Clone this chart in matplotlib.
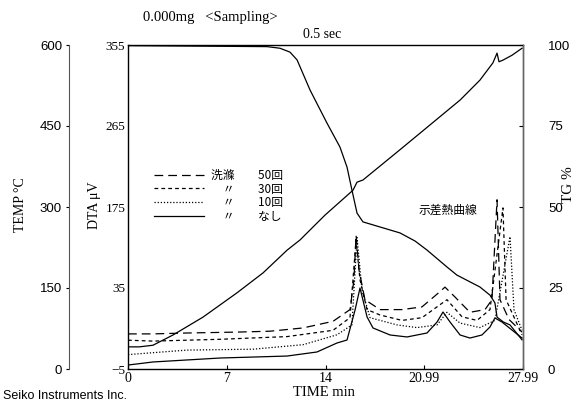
import matplotlib.pyplot as plt
from matplotlib.lines import Line2D

# time axis (min)
x_ticks = [0, 7, 14, 20.99, 27.99]
x_tick_labels = ["0", "7", "14", "20.99", "27.99"]

# DTA axis (uV) - tick labels as printed on the chart
dta_ticks = [-5, 85, 175, 265, 355]
dta_tick_labels = ["−5", "35", "175", "265", "355"]
temp_ticks = [0, 150, 300, 450, 600]
tg_ticks = [0, 25, 50, 75, 100]

# temperature curve (deg C)
temp_t = [0, 0.8, 1.77, 3.19, 5.31, 7.72, 9.57, 11.27, 12.19, 13.96, 15.94, 16.23,
          16.65, 19.27, 21.4, 23.53, 24.94, 25.86, 26.15, 26.29, 26.57, 27.21, 27.92]
temp_v = [41, 41, 44, 63, 96, 141, 178, 220, 239, 285, 331, 346,
          350, 406, 452, 498, 535, 567, 585, 569, 572, 581, 594]

# TG curve (%)
tg_t = [0, 9.85, 10.77, 11.48, 11.98, 12.9, 14.1, 15.02, 15.52, 15.87, 16.23, 16.65,
        19.27, 20.34, 21.19, 22.6, 23.3, 24.94, 25.65, 26.0, 26.15, 26.6, 27.07, 27.92]
tg_v = [99.8, 99.5, 99, 97.8, 95.4, 86.1, 75.9, 68.5, 62.3, 55.2, 48.1, 45.4,
        42.0, 39.5, 36.7, 31.5, 29.0, 25.3, 22.8, 20.4, 16.0, 14.5, 13.6, 9.0]

# DTA curves (uV)
dta50_t = [0, 1.77, 4.18, 7.72, 10.06, 12.4, 14.53, 15.73, 16.01, 16.16, 16.37, 16.79,
           17.86, 19.42, 20.83, 22.11, 22.46, 23.17, 24.23, 25.3, 25.79, 26.15, 26.36, 27.0, 27.92]
dta50_v = [34, 34, 35, 36, 37, 40.6, 48, 61, 94, 144, 105, 72,
           61, 61, 64, 81, 86, 75, 58, 61, 72, 183, 72, 50, 36]

dta30_t = [0, 1.77, 6.52, 11.27, 14.53, 15.73, 16.16, 16.44, 16.94, 17.86, 19.42, 20.83,
           22.6, 23.67, 24.73, 25.65, 26.57, 26.79, 27.92]
dta30_v = [27, 26, 28, 31, 38, 52, 138, 94, 61, 55, 49, 52,
           72, 53, 49, 61, 174, 72, 33]

dta10_t = [0, 4.18, 8.86, 12.4, 14.81, 15.87, 16.23, 16.58, 17.15, 19.06, 20.48, 21.9,
           22.6, 23.53, 24.94, 26.0, 27.07, 27.35, 27.92]
dta10_v = [11, 16, 17, 22, 33, 44, 141, 83, 52, 44, 41, 44,
           58, 46, 41, 49, 142, 61, 38]

dta0_t = [0, 1.77, 6.52, 11.27, 13.39, 14.81, 15.52, 16.09, 16.44, 16.94, 17.36, 18.57,
          19.77, 21.19, 21.9, 22.32, 22.82, 23.53, 24.23, 25.08, 25.65, 26.0, 26.5, 27.92]
dta0_v = [-0.6, 2.8, 7.2, 9.4, 13.9, 23.9, 27.2, 60.6, 85, 52.8, 40.6, 32.8,
          30.6, 35, 47.2, 58.3, 47.2, 32.8, 29.4, 32.8, 41.7, 51.7, 47.2, 29.4]

legend_labels = ["洗滌　　50回", "　〃　　30回", "　〃　　10回", "　〃　　なし"]

serif = "Liberation Serif"
sans = "Liberation Sans"
cjk = ["Noto Sans CJK JP", "DejaVu Sans"]

fig = plt.figure(figsize=(5.87, 4.03), dpi=100)
ax = fig.add_axes([128 / 587, 1 - 369 / 403, 395 / 587, 324 / 403])

lw = 0.9
ax.plot(dta50_t, dta50_v, color="black", lw=lw, dashes=(7, 4))
ax.plot(dta30_t, dta30_v, color="black", lw=lw, dashes=(3, 2.5))
ax.plot(dta10_t, dta10_v, color="black", lw=lw, dashes=(1, 1.5))
ax.plot(dta0_t, dta0_v, color="black", lw=lw)

ax.set_xlim(0, 27.99)
ax.set_ylim(-5, 355)
ax.set_xticks(x_ticks)
ax.set_xticklabels(x_tick_labels, fontfamily=serif, fontsize=10)
ax.set_yticks(dta_ticks)
ax.set_yticklabels(dta_tick_labels, fontfamily=serif, fontsize=9.5)
ax.tick_params(axis="x", direction="in", length=3, pad=2)
ax.tick_params(axis="y", direction="in", length=0, pad=2)
for s in ax.spines.values():
    s.set_linewidth(1.0)

# temperature axis, detached on the left
ax_temp = ax.twinx()
ax_temp.plot(temp_t, temp_v, color="black", lw=lw)
ax_temp.set_ylim(0, 600)
ax_temp.yaxis.tick_left()
ax_temp.spines["left"].set_position(("axes", -59 / 395))
ax_temp.spines["left"].set_color("#555555")
for side in ["right", "top", "bottom"]:
    ax_temp.spines[side].set_visible(False)
ax_temp.set_yticks(temp_ticks)
ax_temp.set_yticklabels([str(v) for v in temp_ticks], fontfamily=sans, fontsize=9.5)
ax_temp.tick_params(axis="y", length=2, pad=3)

# TG axis on the right
ax_tg = ax.twinx()
ax_tg.plot(tg_t, tg_v, color="black", lw=lw)
ax_tg.set_ylim(0, 100)
ax_tg.set_yticks(tg_ticks)
ax_tg.set_yticklabels([str(v) for v in tg_ticks], fontfamily=sans, fontsize=9.5)
ax_tg.tick_params(axis="y", direction="in", length=3, pad=18)
for side in ["left", "top", "bottom"]:
    ax_tg.spines[side].set_visible(False)
ax_tg.spines["right"].set_color("#666666")

# legend
handles = [Line2D([], [], color="black", lw=lw, dashes=(7, 4)),
           Line2D([], [], color="black", lw=lw, dashes=(3, 2.5)),
           Line2D([], [], color="black", lw=lw, dashes=(1, 1.5)),
           Line2D([], [], color="black", lw=lw)]
ax.legend(handles, legend_labels, loc="upper left", bbox_to_anchor=(0.04, 0.65),
          frameon=False, handlelength=4.2, handletextpad=0.6, labelspacing=0.05,
          prop={"family": cjk, "size": 8.5})

ax.text(0.81, 0.49, "示差熱曲線", transform=ax.transAxes, ha="center", va="center",
        fontfamily=cjk, fontsize=8.5)

# axis titles and header text
fig.text(20 / 587, 1 - 205 / 403, "TEMP °C", rotation=90, ha="center", va="center",
         fontfamily=serif, fontsize=10)
fig.text(95 / 587, 1 - 205 / 403, "DTA μV", rotation=90, ha="center", va="center",
         fontfamily=serif, fontsize=10)
fig.text(568 / 587, 1 - 185 / 403, "TG %", rotation=90, ha="center", va="center",
         fontfamily=serif, fontsize=11)
fig.text(324 / 587, 1 - 393 / 403, "TIME min", ha="center", va="center",
         fontfamily=serif, fontsize=10.5)
fig.text(143 / 587, 1 - 18 / 403, "0.000mg   <Sampling>", ha="left", va="center",
         fontfamily=serif, fontsize=10.5)
fig.text(303 / 587, 1 - 34 / 403, "0.5 sec", ha="left", va="center",
         fontfamily=serif, fontsize=10)
fig.text(3 / 587, 1 - 396 / 403, "Seiko Instruments Inc.", ha="left", va="center",
         fontfamily=sans, fontsize=9)

fig.savefig("out.png", dpi=100)
